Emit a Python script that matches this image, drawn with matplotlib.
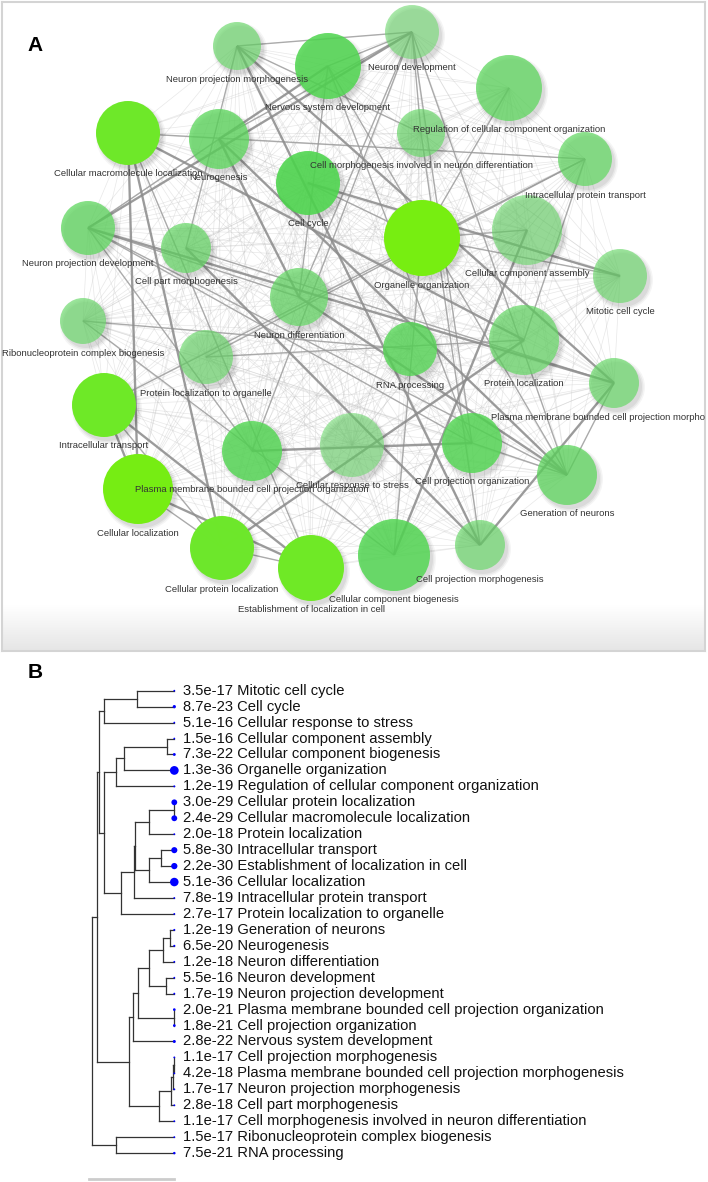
import itertools
import numpy as np
import matplotlib
matplotlib.use("Agg")
import matplotlib.pyplot as plt
from matplotlib.patches import Circle
from matplotlib.collections import LineCollection
from matplotlib.colors import LinearSegmentedColormap

plt.rcParams['font.family'] = ['Liberation Sans', 'DejaVu Sans']

W, H, DPI = 708, 1182, 100

# GO terms in dendrogram order (panel B), with FDR
keys = ["MCC", "CC", "CRS", "CCA", "CCB", "OO", "RCCO", "CPL", "CML", "PL",
        "IT", "ELC", "CL", "IPT", "PLO", "GON", "NG", "NDF", "NDV", "NPD",
        "PCO", "CPO", "NSD", "CPM", "PCM", "NPM", "CPTM", "CMN", "RCB", "RNA"]
terms = ["Mitotic cell cycle", "Cell cycle", "Cellular response to stress",
         "Cellular component assembly", "Cellular component biogenesis",
         "Organelle organization", "Regulation of cellular component organization",
         "Cellular protein localization", "Cellular macromolecule localization",
         "Protein localization", "Intracellular transport",
         "Establishment of localization in cell", "Cellular localization",
         "Intracellular protein transport", "Protein localization to organelle",
         "Generation of neurons", "Neurogenesis", "Neuron differentiation",
         "Neuron development", "Neuron projection development",
         "Plasma membrane bounded cell projection organization",
         "Cell projection organization", "Nervous system development",
         "Cell projection morphogenesis",
         "Plasma membrane bounded cell projection morphogenesis",
         "Neuron projection morphogenesis", "Cell part morphogenesis",
         "Cell morphogenesis involved in neuron differentiation",
         "Ribonucleoprotein complex biogenesis", "RNA processing"]
fdr = [3.5e-17, 8.7e-23, 5.1e-16, 1.5e-16, 7.3e-22, 1.3e-36, 1.2e-19,
       3.0e-29, 2.4e-29, 2.0e-18, 5.8e-30, 2.2e-30, 5.1e-36, 7.8e-19, 2.7e-17,
       1.2e-19, 6.5e-20, 1.2e-18, 5.5e-16, 1.7e-19, 2.0e-21, 1.8e-21, 2.8e-22,
       1.1e-17, 4.2e-18, 1.7e-17, 2.8e-18, 1.1e-17, 1.5e-17, 7.5e-21]

# tree merges (child, child, height); ids >= 30 are earlier merges
merges = [(0, 1, 0.435), (30, 2, 0.827), (3, 4, 0.082), (32, 5, 0.592),
          (33, 6, 0.689), (7, 8, 0.004), (35, 9, 0.294), (10, 11, 0.160),
          (37, 12, 0.294), (36, 38, 0.462), (39, 13, 0.471), (40, 14, 0.631),
          (34, 41, 0.822), (31, 42, 0.882), (15, 16, 0.051), (44, 17, 0.136),
          (18, 19, 0.098), (45, 46, 0.294), (20, 21, 0.004), (47, 48, 0.424),
          (49, 22, 0.482), (23, 24, 0.004), (51, 25, 0.019), (52, 26, 0.039),
          (53, 27, 0.176), (50, 54, 0.529), (43, 55, 0.915), (28, 29, 0.689),
          (56, 57, 0.972)]

# network layout of panel A (pixel units) and node radius
layout = {
    "NPM": (237, 46, 24), "NSD": (328, 66, 33), "NDV": (412, 32, 27),
    "RCCO": (509, 88, 33), "CMN": (421, 133, 24), "CML": (128, 133, 32),
    "NG": (219, 139, 30), "IPT": (585, 159, 27), "CC": (308, 183, 32),
    "OO": (422, 238, 38), "CCA": (527, 230, 35), "NPD": (88, 228, 27),
    "CPTM": (186, 248, 25), "MCC": (620, 276, 27), "NDF": (299, 297, 29),
    "RCB": (83, 321, 23), "RNA": (410, 349, 27), "PL": (524, 340, 35),
    "PLO": (206, 357, 27), "PCM": (614, 383, 25), "IT": (104, 405, 32),
    "PCO": (252, 451, 30), "CRS": (352, 445, 32), "CPO": (472, 443, 30),
    "GON": (567, 475, 30), "CL": (138, 489, 35), "CPL": (222, 548, 32),
    "ELC": (311, 568, 33), "CCB": (394, 555, 36), "CPM": (480, 545, 25),
}

strong_edges = [("PCO", "CPO"), ("NPD", "PCM"), ("CL", "IT"), ("CL", "ELC"),
                ("IT", "ELC"), ("CPL", "CML"), ("CPL", "PL"), ("CML", "PL"),
                ("GON", "NG"), ("GON", "NDF"), ("NG", "NDF"), ("NDV", "NPD"),
                ("CPM", "PCM"), ("CPM", "NPM"), ("PCM", "NPM"), ("CPTM", "CPM"),
                ("CCA", "CCB"), ("MCC", "CC"), ("NG", "NSD"), ("CML", "CL")]
medium_edges = [("NDV", "NG"), ("NDV", "GON"), ("NDV", "NDF"), ("NDV", "NSD"),
                ("NPD", "GON"), ("NPD", "NG"), ("NPD", "NDF"), ("NSD", "GON"),
                ("NSD", "NDF"), ("NPD", "PCO"), ("NPD", "CPO"), ("NDV", "CPO"),
                ("NDV", "PCO"), ("CMN", "NPM"), ("CMN", "CPM"), ("CMN", "NDV"),
                ("NPM", "CPTM"), ("NPM", "NDV"), ("CL", "CPL"), ("IT", "CPL"),
                ("ELC", "CPL"), ("IT", "IPT"), ("PL", "IPT"), ("PLO", "IPT"),
                ("PLO", "PL"), ("CML", "IPT"), ("OO", "CCA"), ("OO", "CCB"),
                ("OO", "CC"), ("OO", "MCC"), ("RCCO", "OO"), ("CML", "ELC"),
                ("NSD", "CPO"), ("GON", "CPO"), ("PCM", "GON"), ("RNA", "RCB"),
                ("CCB", "RCB"), ("CPTM", "PCM")]

fig = plt.figure(figsize=(W / DPI, H / DPI), dpi=DPI)

# ---------------- panel A: network ----------------
x0, x1, y0, y1 = 2, 705, 2, 651
axa = fig.add_axes([x0 / W, 1 - y1 / H, (x1 - x0) / W, (y1 - y0) / H])
grad = np.linspace(1.0, 0.90, 50)[:, None, None] * np.ones((1, 1, 3))
axa.imshow(grad, extent=(x0, x1, y1, 605), origin='upper', aspect='auto', zorder=0)
axa.set_xlim(x0, x1)
axa.set_ylim(y1, y0)
axa.set_xticks([])
axa.set_yticks([])
for sp in axa.spines.values():
    sp.set_color('#d4d4d4')
    sp.set_linewidth(1.5)

pos = {k: layout[k][:2] for k in keys}
faint = [[pos[a], pos[b]] for a, b in itertools.combinations(keys, 2)]
axa.add_collection(LineCollection(faint, colors='#bdbdbd', linewidths=0.5,
                                  alpha=0.35, zorder=1))
axa.add_collection(LineCollection([[pos[a], pos[b]] for a, b in medium_edges],
                                  colors='#9a9a9a', linewidths=1.0, alpha=0.8, zorder=1.5))
axa.add_collection(LineCollection([[pos[a], pos[b]] for a, b in strong_edges],
                                  colors='#8c8c8c', linewidths=1.7, alpha=0.85, zorder=1.6))

cmap = LinearSegmentedColormap.from_list('go', [
    (0.0, (0.45, 0.85, 0.45, 0.6)),
    (0.35, (0.30, 0.84, 0.30, 0.9)),
    (0.65, (0.43, 0.91, 0.16, 1.0)),
    (1.0, (0.467, 0.933, 0.067, 1.0))])

for k, name, p in zip(keys, terms, fdr):
    x, y, r = layout[k]
    t = np.clip((-np.log10(p) - 15) / 21, 0, 1)
    for dr, a in [(3, 0.04), (1.5, 0.05), (0, 0.06)]:
        axa.add_patch(Circle((x + 3, y + 4), r + dr, facecolor='k',
                             edgecolor='none', alpha=a, zorder=2))
    axa.add_patch(Circle((x, y), r, facecolor=cmap(t), edgecolor='none', zorder=3))
    axa.text(x, y + r + 9, name, ha='center', va='center', fontsize=6.8,
             color='#333333', zorder=5, clip_on=True)

fig.text(35.5 / W, 1 - 45.5 / H, 'A', fontsize=15, fontweight='bold',
         ha='center', va='center')

# ---------------- panel B: dendrogram ----------------
row0, row_last = 690.7, 1153.1
left_px, leaf_px = 91.7, 174.3
axb = fig.add_axes([left_px / W, 1 - row_last / H, (leaf_px - left_px) / W,
                    (row_last - row0) / H])
axb.set_xlim(0.972, 0)
axb.set_ylim(len(keys) - 1, 0)
axb.axis('off')

node = {i: (0.0, float(i)) for i in range(len(keys))}
for j, (a, b, h) in enumerate(merges):
    ha_, ya = node[a]
    hb, yb = node[b]
    axb.plot([h, h], [ya, yb], color='#333333', lw=0.9, clip_on=False)
    axb.plot([ha_, h], [ya, ya], color='#333333', lw=0.9, clip_on=False)
    axb.plot([hb, h], [yb, yb], color='#333333', lw=0.9, clip_on=False)
    node[len(keys) + j] = (h, (ya + yb) / 2)

nl = -np.log10(np.array(fdr))
rad = np.maximum(0.9, (nl - 14) / 5)
axb.scatter(np.zeros(len(keys)), np.arange(len(keys)), s=(2 * rad * 0.72) ** 2,
            color='#0000ff', zorder=3, clip_on=False, linewidths=0)

unit = (leaf_px - left_px) / 0.972
for i, (name, p) in enumerate(zip(terms, fdr)):
    axb.text(-(182.7 - leaf_px) / unit, i, f"{p:.1e} {name}", ha='left',
             va='center', fontsize=10.6, color='#111111', clip_on=False)

bar_y = (1179 - row0) / ((row_last - row0) / (len(keys) - 1))
axb.plot([0, 1.0], [bar_y, bar_y], color='#cccccc', lw=2, clip_on=False)

fig.text(35 / W, 1 - 672 / H, 'B', fontsize=15, fontweight='bold',
         ha='center', va='center')

fig.savefig('out.png', dpi=DPI)
